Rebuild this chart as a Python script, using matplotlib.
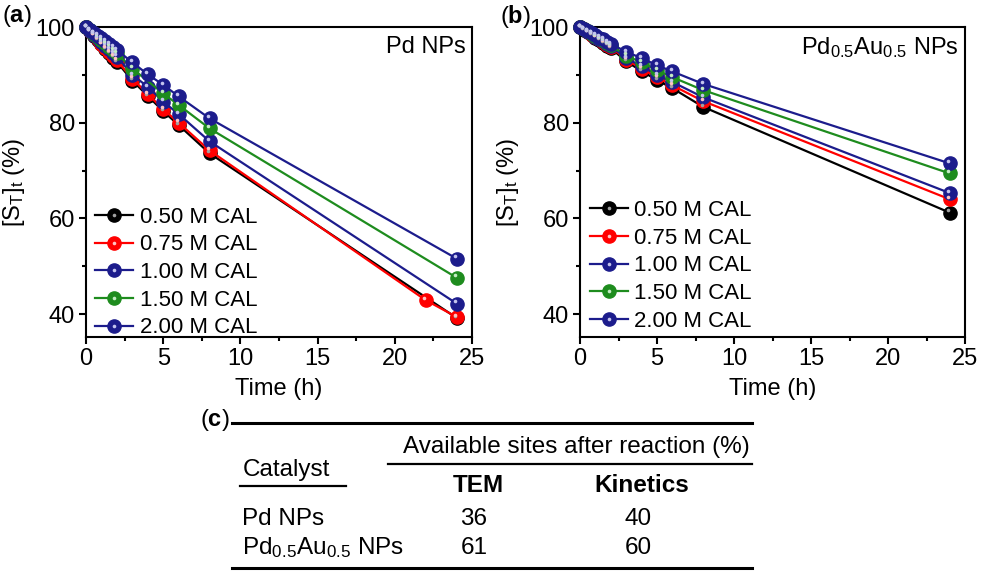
import matplotlib
matplotlib.use("Agg")
import matplotlib.pyplot as plt
import matplotlib.transforms as mtransforms
from matplotlib.lines import Line2D
from matplotlib.legend_handler import HandlerTuple

plt.rcParams['font.family'] = ['Liberation Sans', 'DejaVu Sans']
plt.rcParams['mathtext.fontset'] = 'custom'
plt.rcParams['mathtext.rm'] = 'Liberation Sans'
plt.rcParams['mathtext.it'] = 'Liberation Sans:italic'
plt.rcParams['mathtext.bf'] = 'Liberation Sans:bold'

# ---------------- data ----------------
labels = ['0.50 M CAL', '0.75 M CAL', '1.00 M CAL', '1.50 M CAL', '2.00 M CAL']
colors = ['#000000', '#ff0000', '#1c1c8c', '#1e8c1e', '#1c1c8c']
hi_colors = ['#a0a0a0', '#ffc4c4', '#c4c4ee', '#c4ecc4', '#c4c4ee']

t_early = [0, 0.25, 0.5, 0.75, 1, 1.25, 1.5, 1.75, 2]

# Panel (a): Pd NPs
a_t = [
    t_early + [3, 4, 5, 6, 8, 24],
    t_early + [3, 4, 5, 6, 8, 22, 24],
    t_early + [3, 4, 5, 6, 8, 24],
    t_early + [3, 5, 6, 8, 24],
    t_early + [3, 4, 5, 6, 8, 24],
]
a_y = [
    [100, 99.1, 98.2, 97.3, 96.4, 95.4, 94.5, 93.6, 92.7, 88.8, 85.6, 82.4, 79.5, 73.6, 39.2],
    [100, 99.1, 98.3, 97.4, 96.5, 95.6, 94.7, 93.9, 93.0, 89.2, 86.0, 82.8, 80.0, 74.2, 42.9, 39.4],
    [100, 99.2, 98.4, 97.7, 96.9, 96.1, 95.3, 94.6, 93.8, 90.0, 87.5, 84.4, 81.8, 76.1, 42.2],
    [100, 99.3, 98.6, 98.0, 97.3, 96.6, 95.9, 95.2, 94.5, 91.3, 86.1, 83.7, 78.8, 47.6],
    [100, 99.4, 98.8, 98.2, 97.6, 97.0, 96.4, 95.8, 95.2, 92.6, 90.1, 87.9, 85.5, 80.9, 51.6],
]

# Panel (b): Pd0.5Au0.5 NPs
b_t = [t_early + [3, 4, 5, 6, 8, 24] for _ in range(5)]
b_y = [
    [100, 99.4, 98.9, 98.3, 97.8, 97.2, 96.7, 96.1, 95.6, 92.8, 90.8, 88.9, 87.2, 83.3, 61.2],
    [100, 99.5, 99.0, 98.4, 97.9, 97.4, 96.9, 96.3, 95.8, 93.2, 91.3, 89.5, 87.8, 84.5, 64.0],
    [100, 99.5, 99.0, 98.5, 98.0, 97.5, 97.0, 96.5, 96.0, 93.5, 91.8, 90.0, 88.5, 85.3, 65.3],
    [100, 99.5, 99.1, 98.6, 98.1, 97.6, 97.2, 96.7, 96.2, 94.0, 92.6, 91.0, 89.5, 86.8, 69.4],
    [100, 99.6, 99.1, 98.7, 98.3, 97.8, 97.4, 96.9, 96.5, 94.8, 93.5, 92.0, 90.7, 88.1, 71.5],
]

x_ticks = [0, 5, 10, 15, 20, 25]
y_ticks = [40, 60, 80, 100]

# Table (c)
tbl_header = 'Available sites after reaction (%)'
tbl_col0 = 'Catalyst'
tbl_cols = ['TEM', 'Kinetics']
tbl_rows = ['Pd NPs', r'Pd$_{0.5}$Au$_{0.5}$ NPs']
tbl_vals = [['36', '40'], ['61', '60']]

# ---------------- figure ----------------
W, H = 981, 573
fig = plt.figure(figsize=(W / 100, H / 100), dpi=100)


def px_rect(l, t, r, b):
    return [l / W, 1 - b / H, (r - l) / W, (b - t) / H]


ax_a = fig.add_axes(px_rect(86, 27, 472, 337))
ax_b = fig.add_axes(px_rect(580, 27, 965, 337))


def draw_panel(ax, ts, ys, title, leg_anchor):
    hl_trans = mtransforms.offset_copy(ax.transData, fig=fig, x=-1.0, y=1.6, units='points')
    handles = []
    for t, y, c, hc, lab in zip(ts, ys, colors, hi_colors, labels):
        ln, = ax.plot(t, y, '-', color=c, lw=1.6, marker='o', ms=9.5, mec=c, mfc=c,
                      clip_on=False, zorder=3)
        ax.plot(t, y, 'none', marker='o', ms=2.6, mfc=hc, mec='none', transform=hl_trans,
                clip_on=False, zorder=4)
        hl = Line2D([], [], ls='none', marker='o', ms=2.6, mfc=hc, mec='none')
        handles.append((ln, hl))
    ax.set_xlim(0, 25)
    ax.set_ylim(35.2, 100)
    ax.set_xticks(x_ticks)
    ax.set_yticks(y_ticks)
    ax.set_xticks([2.5, 7.5, 12.5, 17.5, 22.5], minor=True)
    ax.set_yticks([50, 70, 90], minor=True)
    ax.tick_params(which='both', direction='out', width=1.5, labelsize=17, top=False, right=False)
    ax.tick_params(which='major', length=5, pad=3)
    ax.tick_params(which='minor', length=3)
    for s in ax.spines.values():
        s.set_linewidth(1.5)
    ax.set_xlabel('Time (h)', fontsize=17, labelpad=6)
    ax.set_ylabel(r'[S$_\mathrm{T}$]$_\mathrm{t}$ (%)', fontsize=17, labelpad=6)
    ax.text(0.985, 0.935, title, transform=ax.transAxes, ha='right', va='center', fontsize=17)
    ax.legend(handles, labels, handler_map={tuple: HandlerTuple(ndivide=1)},
              loc='upper left', bbox_to_anchor=leg_anchor, frameon=False, fontsize=16,
              handlelength=1.7, handletextpad=0.3, labelspacing=0.3, borderpad=0,
              borderaxespad=0)


draw_panel(ax_a, a_t, a_y, 'Pd NPs', (0.024, 0.42))
draw_panel(ax_b, b_t, b_y, r'Pd$_{0.5}$Au$_{0.5}$ NPs', (0.026, 0.442))

fig.text(2 / W, 1 - 16 / H, r'($\mathbf{a}$)', fontsize=17, va='center', ha='left')
fig.text(500 / W, 1 - 16 / H, r'($\mathbf{b}$)', fontsize=17, va='center', ha='left')

# ---------------- table ----------------
ax_t = fig.add_axes([0, 0, 1, 1], zorder=-1)
ax_t.set_xlim(0, W)
ax_t.set_ylim(H, 0)
ax_t.axis('off')

ax_t.text(200, 420, r'($\mathbf{c}$)', fontsize=17, va='center', ha='left')
ax_t.plot([232, 752], [423, 423], color='k', lw=2.2)
ax_t.plot([388, 752], [464, 464], color='k', lw=1.6)
ax_t.plot([240, 346], [486, 486], color='k', lw=1.6)
ax_t.plot([232, 752], [568, 568], color='k', lw=2.2)
ax_t.text(576, 447, tbl_header, fontsize=17.5, ha='center', va='center')
ax_t.text(243, 470, tbl_col0, fontsize=17.5, ha='left', va='center')
col_x = [478, 642]
for cx, name in zip(col_x, tbl_cols):
    ax_t.text(cx, 486, name, fontsize=17.5, fontweight='bold', ha='center', va='center')
row_y = [519, 548]
for ry, name, vals in zip(row_y, tbl_rows, tbl_vals):
    ax_t.text(242, ry, name, fontsize=17.5, ha='left', va='center')
    for cx, v in zip(col_x, vals):
        ax_t.text(cx - 4, ry, v, fontsize=17.5, ha='center', va='center')

fig.savefig('out.png', dpi=100)
